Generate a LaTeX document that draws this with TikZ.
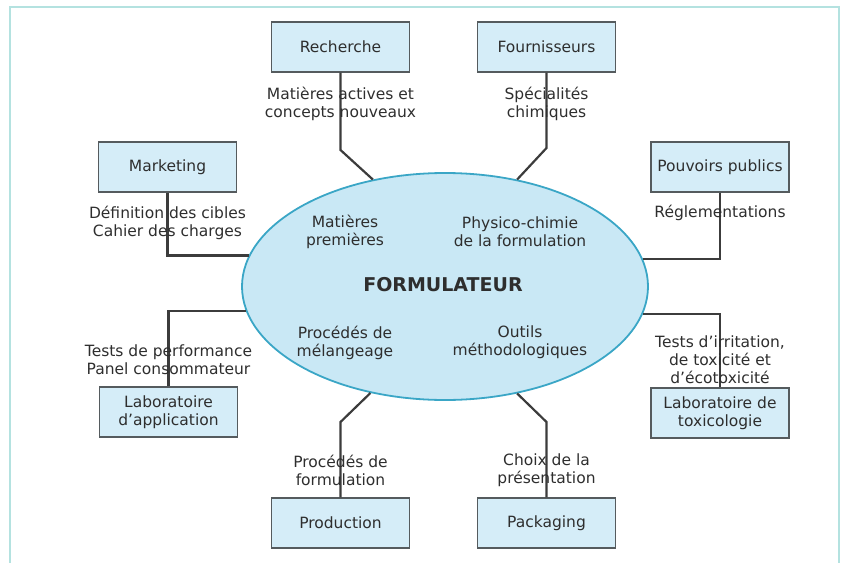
\documentclass[tikz,border=0pt]{standalone}
\usepackage{fontspec}
\setmainfont{DejaVu Sans}
\usetikzlibrary{shapes.geometric}
\definecolor{boxfill}{HTML}{D5EDF8}
\definecolor{boxline}{HTML}{555B5E}
\definecolor{ellfill}{HTML}{C9E8F5}
\definecolor{ellline}{HTML}{3AA6C6}
\definecolor{conn}{HTML}{3C3C3C}
\definecolor{txt}{HTML}{2E2E2E}
\definecolor{framec}{HTML}{B4E2E0}
\begin{document}
\begin{tikzpicture}[x=1pt,y=-1pt,
  every node/.style={font=\fontsize{15.5}{18}\selectfont, text=txt, align=center},
  boite/.style={draw=boxline, line width=1.3pt, fill=boxfill, minimum width=138pt, minimum height=50pt, inner sep=0pt},
  ovale/.style={ellipse, draw=ellline, fill=ellfill, line width=1.8pt, minimum width=406pt, minimum height=227pt, inner sep=0pt},
  lien/.style={draw=conn, line width=2.2pt},
  lbl/.style={inner sep=1pt}]
\useasboundingbox (0,0) rectangle (848,562);
\begin{scope}
\clip (0,0) rectangle (848,562);
\draw[framec, line width=1.6pt] (10,7) rectangle (839,600);
\end{scope}
% central ellipse
\node[ovale] (ell) at (445,286.5) {};
% boxes
\node[boite] (rech) at (340.5,47) {Recherche};
\node[boite] (four) at (546.5,47) {Fournisseurs};
\node[boite] (mark) at (167.5,167) {Marketing};
\node[boite] (pouv) at (720,167) {Pouvoirs publics};
\node[boite] (app) at (168.5,412) {Laboratoire\\d’application};
\node[boite] (tox) at (720,413) {Laboratoire de\\toxicologie};
\node[boite] (prod) at (340.5,523) {Production};
\node[boite] (pack) at (546.5,523) {Packaging};
% bend points
\coordinate (rb) at (340.5,150);
\coordinate (fb) at (546.5,148);
\coordinate (pb) at (340.5,422);
\coordinate (kb) at (546.5,422);
% connectors
\draw[lien] (rech.south) -- (rb) -- (ell.124.4);
\draw[lien] (four.south) -- (fb) -- (ell.56.3);
\draw[lien] (mark.south) |- (ell.171.4);
\draw[lien] (pouv.south) |- (ell.8.6);
\draw[lien] (app.north) |- (ell.187.6);
\draw[lien] (tox.north) |- (ell.352.4);
\draw[lien] (prod.north) -- (pb) -- (ell.235.6);
\draw[lien] (pack.north) -- (kb) -- (ell.304.1);
% connector labels
\node[lbl] (lrech) at (340.5,103.5) {Matières actives et\\concepts nouveaux};
\node[lbl] (lfour) at (546.5,103.5) {Spécialités\\chimiques};
\node[lbl] (lmark) at (167.5,222.5) {Définition des cibles\\Cahier des charges};
\node[lbl] (lpouv) at (720,213) {Réglementations};
\node[lbl] (lapp) at (168.5,360) {Tests de performance\\Panel consommateur};
\node[lbl] (ltox) at (720,359.5) {Tests d’irritation,\\de toxicité et\\d’écotoxicité};
\node[lbl] (lprod) at (340.5,470) {Procédés de\\formulation};
\node[lbl] (lpack) at (546.5,470) {Choix de la\\présentation};
% inside ellipse
\node (formu) at (443,285) {\fontsize{19}{21}\selectfont\bfseries FORMULATEUR};
\node (mp) at (345,232) {Matières\\premières};
\node (pc) at (520,232) {Physico-chimie\\de la formulation};
\node (pm) at (345,342.5) {Procédés de\\mélangeage};
\node (om) at (520,342.5) {Outils\\méthodologiques};
\end{tikzpicture}
\end{document}
